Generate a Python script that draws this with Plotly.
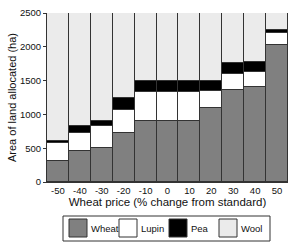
import plotly.graph_objects as go

prices = [-50, -40, -30, -20, -10, 0, 10, 20, 30, 40, 50]
wheat = [310, 465, 500, 730, 900, 900, 900, 1100, 1360, 1405, 2030]
lupin = [260, 255, 335, 335, 425, 425, 425, 250, 240, 220, 170]
pea = [35, 110, 65, 185, 175, 175, 175, 150, 155, 150, 45]
total = 2500
wool = [total - w - l - p for w, l, p in zip(wheat, lupin, pea)]

series = [("Wheat", wheat, "#808080"), ("Lupin", lupin, "#ffffff"),
          ("Pea", pea, "#000000"), ("Wool", wool, "#ebebeb")]

FONT = "Liberation Sans, Arial, sans-serif"
W, H = 300, 247
L, R, T, B = 47, 12, 13, 65

fig = go.Figure()
for name, vals, col in series:
    fig.add_trace(go.Bar(x=prices, y=vals, name=name, marker=dict(color=col, line=dict(color="#333333", width=1)),
                         showlegend=False))

pw = W - L - R
ph = H - T - B
def px(x):
    return (x - L) / pw
def py(y):
    return (H - B - y) / ph

shapes = [dict(type="rect", xref="paper", yref="paper", x0=px(63), x1=px(270), y0=py(241), y1=py(216),
               line=dict(color="#333333", width=1), fillcolor="white", layer="above")]
annotations = []
sw_x = [69, 119, 169, 219]
for (name, vals, col), sx in zip(series, sw_x):
    shapes.append(dict(type="rect", xref="paper", yref="paper", x0=px(sx), x1=px(sx + 18), y0=py(237), y1=py(219),
                       line=dict(color="#333333", width=1), fillcolor=col, layer="above"))
    annotations.append(dict(xref="paper", yref="paper", x=px(sx + 20), y=py(228), text=name, showarrow=False,
                            xanchor="left", yanchor="middle", font=dict(family=FONT, size=9.5, color="#111111")))

fig.update_layout(
    width=W, height=H, margin=dict(l=L, r=R, t=T, b=B),
    barmode="stack", bargap=0,
    plot_bgcolor="white", paper_bgcolor="white",
    font=dict(family=FONT, size=9, color="#111111"),
    shapes=shapes, annotations=annotations,
    xaxis=dict(range=[-55, 55], tickmode="array", tickvals=prices, ticktext=[str(p) for p in prices],
               showgrid=False, zeroline=False, showline=True, linecolor="#333333", linewidth=1,
               ticks="", tickfont=dict(size=9.5), automargin=False,
               title=dict(text="Wheat price (% change from standard)", font=dict(size=11.5), standoff=2)),
    yaxis=dict(range=[0, 2500], tickvals=[0, 500, 1000, 1500, 2000, 2500],
               showgrid=False, zeroline=False, showline=True, linecolor="#333333", linewidth=1,
               ticks="outside", ticklen=3, tickcolor="#333333", tickfont=dict(size=9.5), automargin=False,
               title=dict(text="Area of land allocated (ha)", font=dict(size=11), standoff=1)),
)

fig.write_html("out.html")
